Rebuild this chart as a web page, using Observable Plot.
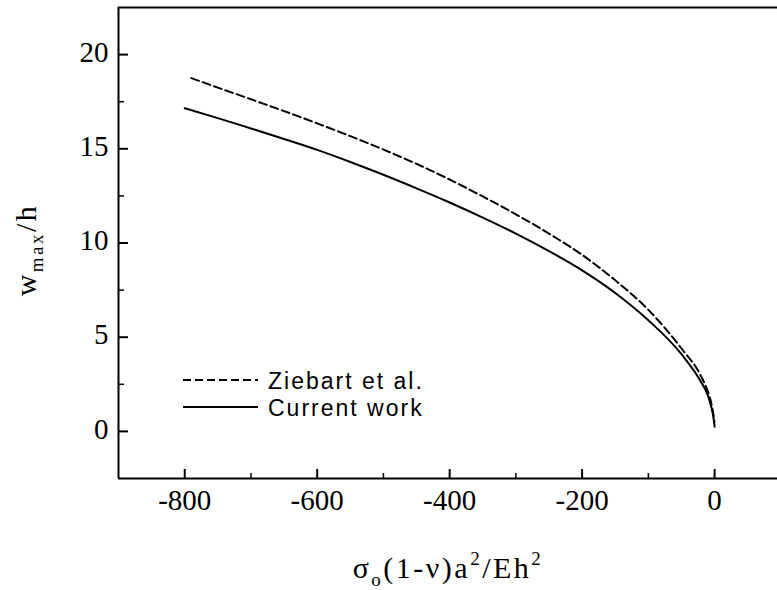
<!DOCTYPE html>
<html><head><meta charset="utf-8">
<script src="https://cdn.jsdelivr.net/npm/d3@7"></script>
<script src="https://cdn.jsdelivr.net/npm/@observablehq/plot@0.6"></script>
<style>body{margin:0;background:#fff} svg{display:block}</style>
</head><body><div id="chart"></div><script>
// Current work (solid)
const currentStress = [-800,-750,-700,-650,-600,-550,-500,-450,-400,-350,-300,-250,-200,-150,-100,-50,-20,-10,-5,-2,0];
const currentW = [17.15,16.63,16.08,15.52,14.94,14.3,13.62,12.9,12.15,11.35,10.5,9.57,8.55,7.35,5.9,4.1,2.6,1.9,1.3,0.8,0.25];
// Ziebart et al. (dashed)
const ziebartStress = [-790,-750,-700,-650,-600,-550,-500,-450,-400,-350,-300,-250,-200,-150,-100,-50,-20,-10,-5,0];
const ziebartW = [18.75,18.25,17.63,17.0,16.35,15.67,14.96,14.2,13.37,12.47,11.52,10.5,9.37,8.02,6.45,4.4,2.9,2.1,1.5,0.5];
const xTicks = [-800,-600,-400,-200,0];
const xMinor = [-700,-500,-300,-100];
const yTicks = [0,5,10,15,20];
const yMinor = [2.5,7.5,12.5,17.5];
const xDomain = [-900, 95];
const yDomain = [-2.5, 22.5];
const legendLabels = ["Ziebart et al.", "Current work"];

const current = currentStress.map((x, i) => ({x, y: currentW[i]}));
const ziebart = ziebartStress.map((x, i) => ({x, y: ziebartW[i]}));

const W = 777, H = 590, ML = 118, MR = 0, MT = 7, MB = 112;
const innerW = W - ML - MR, innerH = H - MT - MB;
const fmt = d => String(d);

const plot = Plot.plot({
  width: W, height: H,
  marginLeft: ML, marginRight: MR, marginTop: MT, marginBottom: MB,
  style: {fontFamily: "'Liberation Serif', 'Times New Roman', serif", fontSize: "29px", color: "#000", background: "#fff"},
  x: {domain: xDomain},
  y: {domain: yDomain},
  marks: [
    Plot.axisX(xTicks, {tickSize: 0, tickPadding: 11, label: null, tickFormat: fmt}),
    Plot.axisY(yTicks, {tickSize: 0, tickPadding: 10, label: null, dy: -2, tickFormat: fmt}),
    // inward ticks
    Plot.tickX(xTicks, {x: d => d, stroke: "#000", strokeWidth: 2, insetTop: innerH - 9}),
    Plot.tickX(xMinor, {x: d => d, stroke: "#000", strokeWidth: 1.5, insetTop: innerH - 5}),
    Plot.tickY(yTicks, {y: d => d, stroke: "#000", strokeWidth: 2, insetRight: innerW - 10}),
    Plot.tickY(yMinor, {y: d => d, stroke: "#000", strokeWidth: 1.5, insetRight: innerW - 6}),
    Plot.ruleX([xDomain[0]], {strokeWidth: 2}),
    Plot.ruleY(yDomain, {strokeWidth: 2}),
    Plot.line(ziebart, {x: "x", y: "y", stroke: "#000", strokeWidth: 2, strokeDasharray: "8,4", curve: "monotone-x"}),
    Plot.line(current, {x: "x", y: "y", stroke: "#000", strokeWidth: 2, curve: "monotone-x"})
  ]
});
document.getElementById("chart").appendChild(plot);

const svg = d3.select(plot);
// Legend
const lg = svg.append("g").attr("font-family", "'Liberation Sans', Arial, sans-serif").attr("font-size", 23).attr("text-anchor", "start");
const dashes = ["8,4", null];
legendLabels.forEach((t, i) => {
  const y = 380 + i * 27;
  lg.append("line").attr("x1", 183).attr("x2", 258).attr("y1", y).attr("y2", y)
    .attr("stroke", "#000").attr("stroke-width", 2).attr("stroke-dasharray", dashes[i]);
  lg.append("text").attr("x", 268).attr("y", y + 8.5).attr("fill", "#000").attr("text-anchor", "start").attr("letter-spacing", 2).text(t);
});

// Y axis label: w_max/h
const yl = svg.append("text").attr("transform", "translate(36,250) rotate(-90)")
  .attr("text-anchor", "middle").attr("font-size", 30).attr("letter-spacing", 2.5).attr("fill", "#000");
yl.append("tspan").text("w");
yl.append("tspan").attr("font-size", 19).attr("dy", 7).text("max");
yl.append("tspan").attr("dy", -7).text("/h");

// X axis label: σo(1-ν)a²/Eh²
const xl = svg.append("text").attr("x", 448).attr("y", 578)
  .attr("text-anchor", "middle").attr("font-size", 30).attr("letter-spacing", 2.5).attr("fill", "#000");
xl.append("tspan").text("σ");
xl.append("tspan").attr("font-size", 19).attr("dy", 8).text("o");
xl.append("tspan").attr("dy", -8).text("(1-ν)a");
xl.append("tspan").attr("font-size", 19).attr("dy", -13).text("2");
xl.append("tspan").attr("dy", 13).text("/Eh");
xl.append("tspan").attr("font-size", 19).attr("dy", -13).text("2");
</script></body></html>
